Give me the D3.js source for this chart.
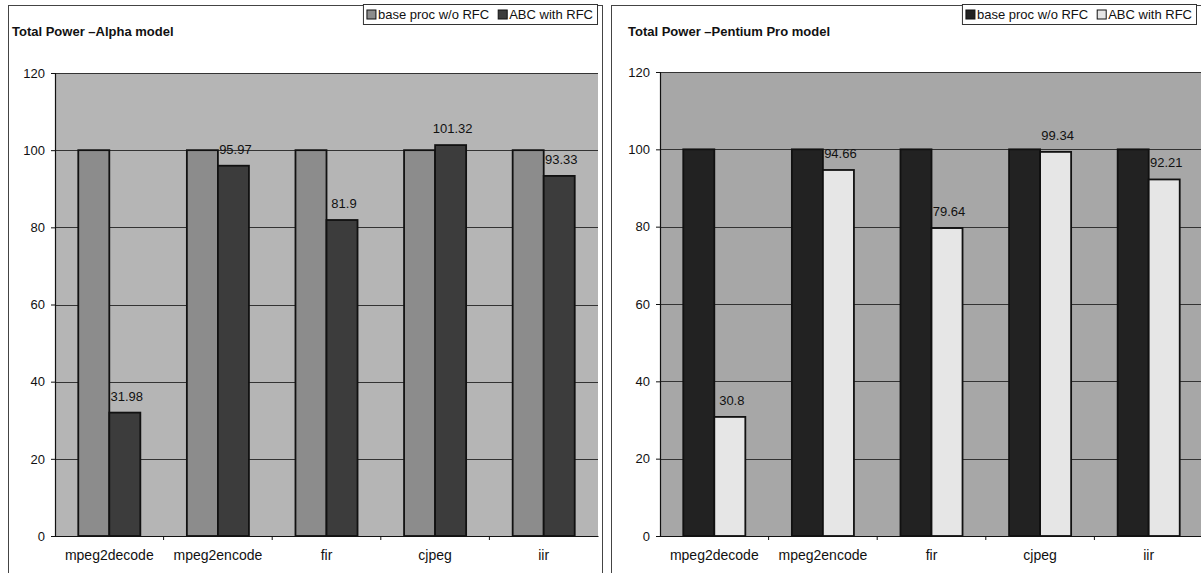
<!DOCTYPE html>
<html>
<head>
<meta charset="utf-8">
<script src="https://cdn.jsdelivr.net/npm/d3@7"></script>
<style>
  html, body { margin: 0; padding: 0; background: #fff; }
  svg { display: block; font-family: "Liberation Sans", Arial, sans-serif; }
</style>
</head>
<body>
<svg id="chart" width="1201" height="573"></svg>
<script>
// Benchmarks on the x axis
const categories = ["mpeg2decode", "mpeg2encode", "fir", "cjpeg", "iir"];
// Legend entries
const seriesNames = ["base proc w/o RFC", "ABC with RFC"];
// Total power, normalised to the base processor (= 100)
const alphaBase = [100, 100, 100, 100, 100];
const alphaABC = [31.98, 95.97, 81.9, 101.32, 93.33];
const pentiumBase = [100, 100, 100, 100, 100];
const pentiumABC = [30.8, 94.66, 79.64, 99.34, 92.21];
// Value axis ticks
const yTicks = [0, 20, 40, 60, 80, 100, 120];

const FONT = "'Liberation Sans', Arial, sans-serif";
const svg = d3.select("#chart");

function drawPanel(cfg) {
  const g = svg.append("g");

  // outer frame of the chart object
  g.append("rect")
    .attr("x", cfg.frame[0] + 0.5).attr("y", cfg.frame[1] + 0.5)
    .attr("width", cfg.frame[2]).attr("height", cfg.frame[3])
    .attr("fill", "none").attr("stroke", "#444").attr("stroke-width", 1);

  const x = d3.scaleBand().domain(categories).range([cfg.left, cfg.right]).padding(0);
  const xs = d3.scaleBand().domain(seriesNames).range([0, x.bandwidth()])
    .paddingInner(0).paddingOuter(0.75);
  const y = d3.scaleLinear().domain([0, 120]).range([cfg.bottom, cfg.top]);

  // plot area
  g.append("rect")
    .attr("x", cfg.left).attr("y", cfg.top)
    .attr("width", cfg.right - cfg.left).attr("height", cfg.bottom - cfg.top)
    .attr("fill", cfg.plotFill);

  // horizontal gridlines
  g.append("g").selectAll("line").data(yTicks.filter(t => t > 0)).join("line")
    .attr("x1", cfg.left).attr("x2", cfg.right)
    .attr("y1", d => Math.round(y(d)) + 0.5).attr("y2", d => Math.round(y(d)) + 0.5)
    .attr("stroke", "#333").attr("stroke-width", 1);

  // bars
  const rows = categories.map((c, i) => ({ cat: c, vals: [cfg.base[i], cfg.abc[i]] }));
  const grp = g.append("g").selectAll("g").data(rows).join("g")
    .attr("transform", d => `translate(${x(d.cat)},0)`);
  grp.selectAll("rect").data(d => d.vals.map((v, k) => ({ v, k }))).join("rect")
    .attr("x", d => xs(seriesNames[d.k]))
    .attr("y", d => y(d.v))
    .attr("width", xs.bandwidth())
    .attr("height", d => y(0) - y(d.v))
    .attr("fill", d => cfg.colors[d.k])
    .attr("stroke", "#111").attr("stroke-width", 1.8);

  // value labels on the ABC bars
  grp.append("text")
    .attr("x", xs(seriesNames[1]) + xs.bandwidth() / 2 + 2)
    .attr("y", d => y(d.vals[1]) - 12)
    .attr("text-anchor", "middle")
    .attr("font-size", 13).attr("fill", "#111")
    .text(d => String(d.vals[1]));

  // value axis
  const ya = g.append("g").attr("transform", `translate(${cfg.left},0)`)
    .call(d3.axisLeft(y).tickValues(yTicks).tickSize(4).tickPadding(6));
  ya.select(".domain").attr("stroke", "#111").attr("stroke-width", 1.2);
  ya.selectAll(".tick line").attr("stroke", "#111");
  ya.selectAll("text").attr("font-size", 13).attr("fill", "#111").attr("font-family", FONT);

  // category axis with ticks between groups
  const xa = g.append("g").attr("transform", `translate(0,${cfg.bottom})`)
    .call(d3.axisBottom(x).tickSize(0).tickPadding(14));
  xa.select(".domain").attr("stroke", "#111").attr("stroke-width", 1.2);
  xa.selectAll("text").attr("font-size", 14).attr("fill", "#111").attr("font-family", FONT);
  g.append("g").selectAll("line").data(categories.slice(1)).join("line")
    .attr("x1", d => x(d)).attr("x2", d => x(d))
    .attr("y1", cfg.bottom).attr("y2", cfg.bottom + 4)
    .attr("stroke", "#111");

  // title
  g.append("text")
    .attr("x", cfg.titleX).attr("y", 36)
    .attr("font-size", 13).attr("font-weight", "bold").attr("fill", "#111")
    .text(cfg.title);

  // legend
  const lg = g.append("g");
  const box = lg.append("rect")
    .attr("fill", "#fff").attr("stroke", "#333").attr("stroke-width", 1);
  const items = [];
  seriesNames.forEach((name, k) => {
    const it = lg.append("g");
    it.append("rect").attr("x", 0).attr("y", -9).attr("width", 9).attr("height", 9)
      .attr("fill", cfg.colors[k]).attr("stroke", "#111").attr("stroke-width", 1);
    const t = it.append("text").attr("x", 11).attr("y", 0)
      .attr("font-size", 13).attr("fill", "#111").text(name);
    const w = 11 + t.node().getComputedTextLength();
    items.push({ it, w });
  });
  const gap = 9, pad = 4;
  const total = items.reduce((s, d) => s + d.w, 0) + gap * (items.length - 1);
  const bx = cfg.legendRight - total - pad * 2;
  let cx = bx + pad;
  items.forEach(d => {
    d.it.attr("transform", `translate(${cx},19)`);
    cx += d.w + gap;
  });
  box.attr("x", bx + 0.5).attr("y", 4.5).attr("width", total + pad * 2).attr("height", 20);
}

drawPanel({
  frame: [8, 5, 594, 600],
  left: 55, right: 598, top: 73, bottom: 536,
  plotFill: "#b5b5b5",
  colors: ["#8c8c8c", "#3c3c3c"],
  base: alphaBase, abc: alphaABC,
  title: "Total Power \u2013Alpha model", titleX: 12,
  legendRight: 597
});

drawPanel({
  frame: [611, 5, 620, 600],
  left: 660, right: 1203, top: 72, bottom: 536,
  plotFill: "#a7a7a7",
  colors: ["#222222", "#e6e6e6"],
  base: pentiumBase, abc: pentiumABC,
  title: "Total Power \u2013Pentium Pro model", titleX: 628,
  legendRight: 1196
});
</script>
</body>
</html>
